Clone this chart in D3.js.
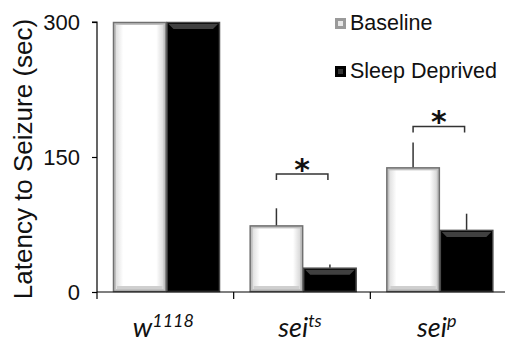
<!DOCTYPE html>
<html><head><meta charset="utf-8">
<script src="https://cdn.jsdelivr.net/npm/d3@7"></script>
<style>
html,body{margin:0;padding:0;background:#fff;}
svg{display:block;}
</style></head>
<body>
<svg id="chart" width="505" height="346"></svg>
<script>
// ---- data ----
const categories = ["w", "sei", "sei"];
const categorySup = ["1118", "ts", "p"];
const seriesNames = ["Baseline", "Sleep Deprived"];
const baseline = [300, 74, 138.5];
const baselineErr = [0, 19, 27.5];
const sleepDeprived = [300, 27, 69];
const sleepDeprivedErr = [0, 3.5, 18];
const sigBracket = [null, 131, 184];   // bracket height (sec) where significant
const yTicks = [0, 150, 300];
const yLabel = "Latency to Seizure (sec)";

// ---- layout ----
const svg = d3.select("#chart");
const margin = {left: 97, top: 22, bottom: 292, right: 507};
const x = d3.scaleBand().domain(d3.range(categories.length)).range([margin.left, margin.right]).paddingInner(0).paddingOuter(0);
const xs = d3.scaleBand().domain([0, 1]).range([16, 123]);
const y = d3.scaleLinear().domain([0, 300]).range([margin.bottom, margin.top]);

const series = [
  {name: seriesNames[0], vals: baseline, err: baselineErr},
  {name: seriesNames[1], vals: sleepDeprived, err: sleepDeprivedErr}
];

// defs
const defs = svg.append("defs");
const gW = defs.append("linearGradient").attr("id", "gw").attr("x1", 0).attr("x2", 1).attr("y1", 0).attr("y2", 0);
gW.append("stop").attr("offset", "0%").attr("stop-color", "#e0e0e0");
gW.append("stop").attr("offset", "15%").attr("stop-color", "#ffffff");
gW.append("stop").attr("offset", "85%").attr("stop-color", "#ffffff");
gW.append("stop").attr("offset", "100%").attr("stop-color", "#d8d8d8");

// bars
series.forEach((s, si) => {
  const g = svg.append("g");
  s.vals.forEach((v, i) => {
    const x0 = x(i) + xs(si), w = xs.bandwidth();
    const y0 = y(v), h = y(0) - y(v);
    if (si === 0) {
      g.append("rect").attr("x", x0 + 0.5).attr("y", y0 + 0.5).attr("width", w - 1).attr("height", h - 1)
        .attr("fill", "#c0c0c0").attr("stroke", "#707070").attr("stroke-width", 1.5);
      g.append("rect").attr("x", x0 + 3).attr("y", y0 + 3).attr("width", w - 6).attr("height", h - 6)
        .attr("fill", "url(#gw)");
      g.append("rect").attr("x", x0 + 4).attr("y", y(0) - 6).attr("width", w - 8).attr("height", 3)
        .attr("fill", "#cfcfcf");
    } else {
      g.append("rect").attr("x", x0 + 0.5).attr("y", y0 + 0.5).attr("width", w - 1).attr("height", h - 1)
        .attr("fill", "#000").attr("stroke", "#4a4a4a").attr("stroke-width", 1.5);
      g.append("path").attr("d", `M${x0 + 2},${y0 + 2} L${x0 + w - 2},${y0 + 2} L${x0 + w - 7},${y0 + 7} L${x0 + 7},${y0 + 7} Z`)
        .attr("fill", "#404040");
    }
    if (s.err[i] > 0) {
      g.append("line").attr("x1", x0 + w / 2).attr("x2", x0 + w / 2)
        .attr("y1", y(v)).attr("y2", y(v + s.err[i]))
        .attr("stroke", "#333").attr("stroke-width", 1.5);
    }
  });
});

// axes
const yAxis = d3.axisLeft(y).tickValues(yTicks).tickSize(5).tickPadding(12);
const ya = svg.append("g").attr("transform", `translate(${margin.left},0)`).call(yAxis);
ya.select(".domain").attr("stroke", "#000").attr("stroke-width", 1.2).attr("d", `M-5,${y(300)}H0V${y(0)}`);
ya.selectAll(".tick line").attr("stroke", "#000").attr("stroke-width", 1.2);
ya.selectAll(".tick text").attr("font-family", "Liberation Sans, Arial, sans-serif").attr("font-size", 22).attr("fill", "#111");

const xa = svg.append("g").attr("transform", `translate(0,${margin.bottom})`);
xa.append("line").attr("x1", margin.left).attr("x2", 505).attr("y1", 0).attr("y2", 0).attr("stroke", "#000").attr("stroke-width", 1.2);
xa.selectAll("line.tk").data(d3.range(categories.length)).join("line").attr("class", "tk")
  .attr("x1", d => x(d)).attr("x2", d => x(d)).attr("y1", 0).attr("y2", 7)
  .attr("stroke", "#000").attr("stroke-width", 1.2);

const lab = xa.selectAll("text.cat").data(d3.range(categories.length)).join("text").attr("class", "cat")
  .attr("x", d => x(d) + x.bandwidth() / 2 - 2).attr("y", 45)
  .attr("text-anchor", "middle").attr("font-family", "Lato, Open Sans, sans-serif").attr("font-style", "italic")
  .attr("font-size", 27).attr("fill", "#111");
lab.append("tspan").text(d => categories[d]);
lab.append("tspan").attr("dy", -10).attr("font-size", 18).text(d => categorySup[d]);

// y label
svg.append("text").attr("transform", `translate(32,159) rotate(-90)`).attr("text-anchor", "middle")
  .attr("font-family", "Liberation Sans, Arial, sans-serif").attr("font-size", 26).attr("fill", "#111")
  .text(yLabel);

// significance brackets
sigBracket.forEach((b, i) => {
  if (b == null) return;
  const xa0 = x(i) + xs(0) + xs.bandwidth() / 2;
  const xb0 = x(i) + xs(1) + xs.bandwidth() / 2 - 2;
  const yb = y(b);
  svg.append("path").attr("d", `M${xa0},${yb + 6}V${yb}H${xb0}V${yb + 6}`)
    .attr("fill", "none").attr("stroke", "#333").attr("stroke-width", 1.5);
  svg.append("text").attr("x", (xa0 + xb0) / 2).attr("y", yb + 6).attr("text-anchor", "middle")
    .attr("font-family", "DejaVu Sans, sans-serif").attr("font-weight", "bold").attr("font-size", 30).attr("fill", "#111").text("*");
});

// legend
const leg = svg.append("g").attr("font-family", "Liberation Sans, Arial, sans-serif").attr("font-size", 21.5).attr("fill", "#111");
const legY = [18, 66];
seriesNames.forEach((n, i) => {
  const gy = legY[i];
  if (i === 0) {
    leg.append("rect").attr("x", 335).attr("y", gy).attr("width", 11).attr("height", 11).attr("fill", "#9a9a9a");
    leg.append("rect").attr("x", 338).attr("y", gy + 3).attr("width", 5).attr("height", 5).attr("fill", "#e8e8e8");
  } else {
    leg.append("rect").attr("x", 335).attr("y", gy).attr("width", 11).attr("height", 11).attr("fill", "#000");
    leg.append("rect").attr("x", 338).attr("y", gy + 3).attr("width", 5).attr("height", 5).attr("fill", "#333");
  }
  leg.append("text").attr("x", 350).attr("y", gy + 12).text(n);
});
</script>
</body></html>
